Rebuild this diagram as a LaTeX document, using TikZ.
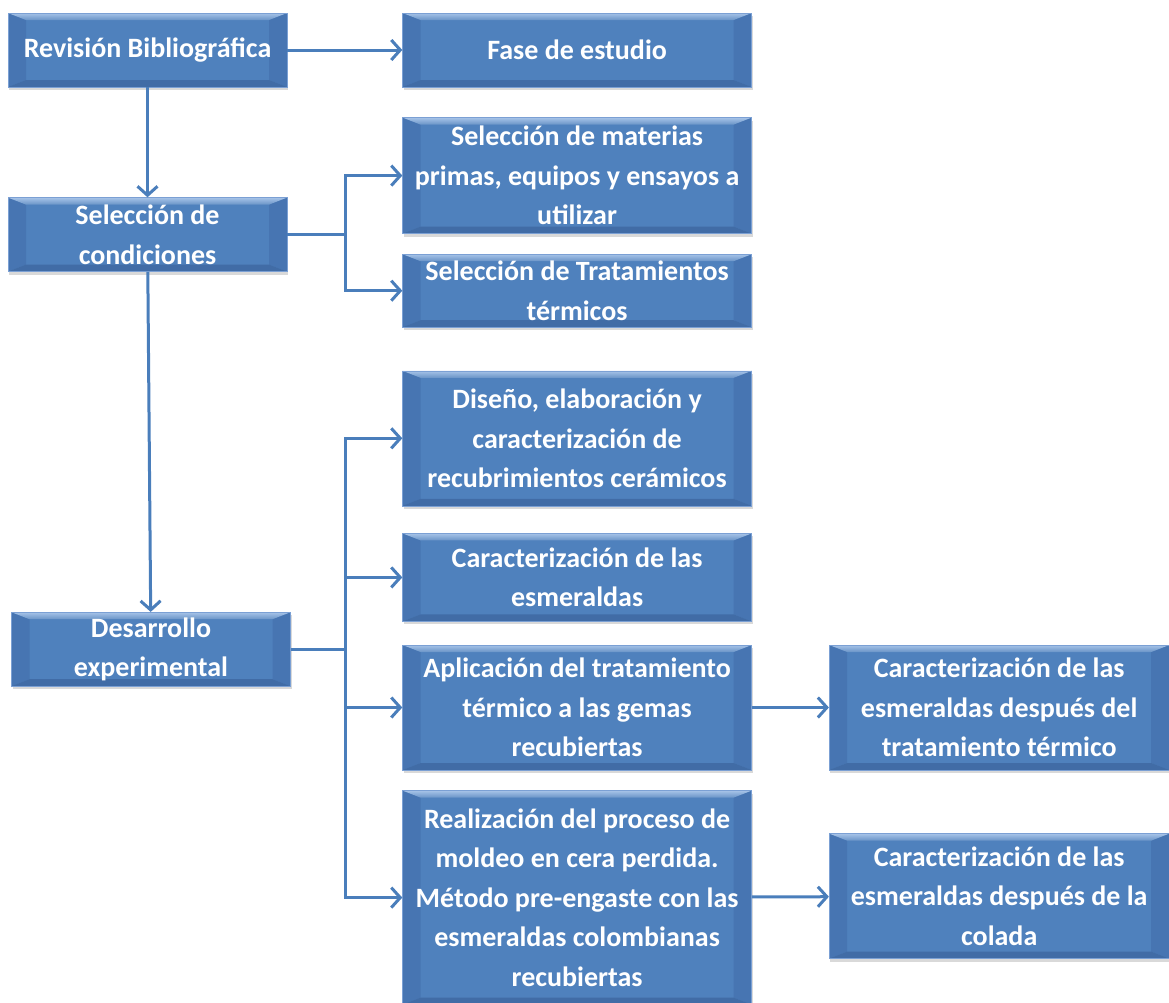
\documentclass[tikz,border=0pt]{standalone}
\usepackage{fontspec}
\setmainfont{Carlito}
\usetikzlibrary{arrows.meta, positioning, shadows}
\definecolor{boxblue}{HTML}{4F81BD}
\definecolor{boxedge}{HTML}{7BA0D4}
\definecolor{bevtop}{HTML}{A6C3E8}
\definecolor{bevside}{HTML}{4775B2}
\definecolor{bevbot}{HTML}{416CA6}
\definecolor{linkblue}{HTML}{4A7EBB}

\begin{document}
\begin{tikzpicture}[x=1pt,y=-1pt]
\tikzset{bevel/.style={path picture={
			\coordinate (nw) at (path picture bounding box.north west);
			\coordinate (ne) at (path picture bounding box.north east);
			\coordinate (sw) at (path picture bounding box.south west);
			\coordinate (se) at (path picture bounding box.south east);
			\fill[bevside] (nw) -- ([xshift=18pt,yshift=-7pt]nw) -- ([xshift=18pt,yshift=7pt]sw) -- (sw) -- cycle;
			\fill[bevside] (ne) -- ([xshift=-18pt,yshift=-7pt]ne) -- ([xshift=-18pt,yshift=7pt]se) -- (se) -- cycle;
			\fill[bevbot] (sw) -- ([xshift=18pt,yshift=7pt]sw) -- ([xshift=-18pt,yshift=7pt]se) -- (se) -- cycle;
			\shade[top color=bevtop, bottom color=boxblue!85!white] (nw) -- (ne) -- ([xshift=-18pt,yshift=-7pt]ne) -- ([xshift=18pt,yshift=-7pt]nw) -- cycle;}},
		stage/.style={rectangle, align=center, fill=boxblue, draw=boxedge, line width=0.6pt, text=white,
			font=\fontsize{28}{39.5}\selectfont\bfseries, inner sep=1pt, bevel,
			drop shadow={shadow xshift=1pt, shadow yshift=-3pt, opacity=0.3}},
		wide/.style={stage, minimum width=349pt},
		side/.style={stage, minimum width=279pt, minimum height=74pt},
		link/.style={draw=linkblue, line width=3pt},
		go/.style={link, -{Straight Barb[length=9pt,width=20pt]}}}
\useasboundingbox (0,0) rectangle (1169,1002);
\node[side] (rev) at (147.5,50) {Revisión Bibliográfica};
\node[wide, minimum height=74pt, right=115pt of rev] (fase) {Fase de estudio};
\node[side, below=110pt of rev] (cond) {Selección de\\condiciones};
\node[wide, minimum height=116pt, below=30pt of fase] (mat) {Selección de materias\\primas, equipos y ensayos a\\utilizar};
\node[wide, minimum height=73pt, below=20pt of mat] (trat) {Selección de Tratamientos\\térmicos};
\node[wide, minimum height=135pt, below=43pt of trat] (dis) {Diseño, elaboración y\\caracterización de\\recubrimientos cerámicos};
\node[wide, minimum height=88pt, below=27pt of dis] (car) {Caracterización de las\\esmeraldas};
\node[wide, minimum height=125pt, below=23pt of car] (apl) {Aplicación del tratamiento\\térmico a las gemas\\recubiertas};
\node[wide, minimum height=214pt, below=20pt of apl] (rea) {Realización del proceso de\\moldeo en cera perdida.\\Método pre-engaste con las\\esmeraldas colombianas\\recubiertas};
\node[side, below=340pt of cond, xshift=3.5pt] (des) {Desarrollo\\experimental};
\node[stage, minimum width=340pt, minimum height=125pt, right=77pt of apl] (tdesp) {Caracterización de las\\esmeraldas después del\\tratamiento térmico};
\node[stage, minimum width=340pt, minimum height=125pt, right=77pt of rea, yshift=1.5pt] (cdesp) {Caracterización de las\\esmeraldas después de la\\colada};
\draw[go] (rev) -- (fase);
\draw[go] (rev) -- (cond);
\draw[go] (cond) -- (des);
\coordinate (j1) at ([xshift=58pt]cond.east);
\draw[link] (cond) -- (j1);
\draw[go] (j1) |- (mat);
\draw[go] (j1) |- (trat);
\coordinate (j2) at ([xshift=55pt]des.east);
\draw[link] (des) -- (j2);
\foreach \t in {dis,car,apl,rea}
	\draw[go] (j2) |- (\t);
\draw[go] (apl) -- (tdesp);
\draw[go] (rea) -- (cdesp);
\end{tikzpicture}
\end{document}
